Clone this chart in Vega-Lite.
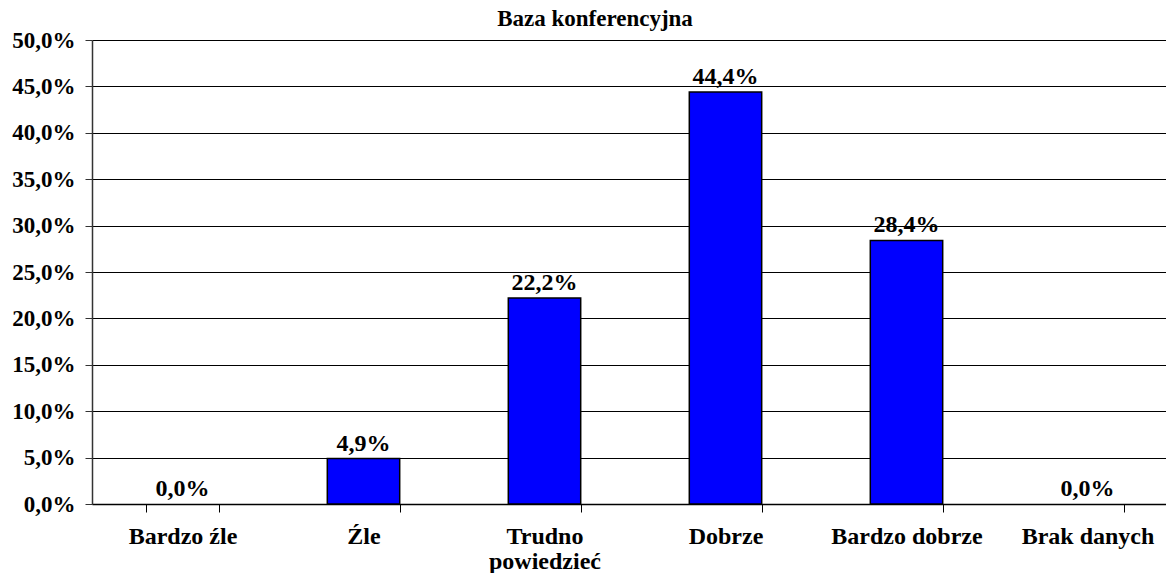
{
  "$schema": "https://vega.github.io/schema/vega-lite/v6.json",
  "autosize": "none",
  "width": 1074,
  "height": 464,
  "padding": {"left": 92, "top": 40, "right": 0, "bottom": 69},
  "background": "white",
  "title": {
    "text": "Baza konferencyjna",
    "font": "Liberation Serif",
    "fontSize": 23,
    "fontWeight": "bold",
    "color": "black",
    "anchor": "middle",
    "frame": "group",
    "baseline": "alphabetic",
    "offset": -20,
    "dx": -34
  },
  "data": {
    "values": [
      {"kategoria": "Bardzo źle", "wartosc": 0.0},
      {"kategoria": "Źle", "wartosc": 0.049},
      {"kategoria": "Trudno powiedzieć", "wartosc": 0.222},
      {"kategoria": "Dobrze", "wartosc": 0.444},
      {"kategoria": "Bardzo dobrze", "wartosc": 0.284},
      {"kategoria": "Brak danych", "wartosc": 0.0}
    ]
  },
  "encoding": {
    "x": {
      "field": "kategoria",
      "type": "nominal",
      "sort": ["Bardzo źle", "Źle", "Trudno powiedzieć", "Dobrze", "Bardzo dobrze", "Brak danych"],
      "scale": {"range": [0, 1086], "paddingInner": 0.6, "paddingOuter": 0.3},
      "axis": {
        "title": null,
        "labelAngle": 0,
        "labelFont": "Liberation Serif",
        "labelFontSize": 24,
        "labelFontWeight": "bold",
        "labelColor": "black",
        "labelBaseline": "top",
        "labelPadding": 12,
        "labelLimit": 0,
        "labelLineHeight": 25,
        "labelExpr": "datum.label == 'Trudno powiedzieć' ? ['Trudno', 'powiedzieć'] : datum.label",
        "tickBand": "extent",
        "tickSize": 8,
        "tickColor": "black",
        "domainColor": "black",
        "domainWidth": 1.5,
        "grid": false
      }
    },
    "y": {
      "field": "wartosc",
      "type": "quantitative",
      "scale": {"domain": [0, 0.5], "nice": false},
      "axis": {
        "title": null,
        "values": [0, 0.05, 0.1, 0.15, 0.2, 0.25, 0.3, 0.35, 0.4, 0.45, 0.5],
        "format": ".1%",
        "labelFont": "Liberation Serif",
        "labelFontSize": 23,
        "labelFontWeight": "bold",
        "labelColor": "black",
        "labelPadding": 10,
        "tickSize": 7,
        "tickColor": "#333",
        "domainColor": "#333",
        "domainWidth": 1.5,
        "grid": true,
        "gridColor": "black",
        "gridWidth": 1
      }
    }
  },
  "layer": [
    {
      "transform": [{"filter": "datum.wartosc > 0"}],
      "mark": {"type": "bar", "fill": "#0000FF", "stroke": "black", "strokeWidth": 1.5}
    },
    {
      "mark": {
        "type": "text",
        "font": "Liberation Serif",
        "fontSize": 24,
        "fontWeight": "bold",
        "color": "black",
        "baseline": "alphabetic",
        "dy": -8
      },
      "encoding": {
        "text": {"field": "wartosc", "type": "quantitative", "format": ".1%"}
      }
    }
  ],
  "config": {
    "view": {"stroke": null},
    "locale": {
      "number": {"decimal": ",", "thousands": " ", "grouping": [3], "currency": ["", " zł"]}
    }
  }
}
